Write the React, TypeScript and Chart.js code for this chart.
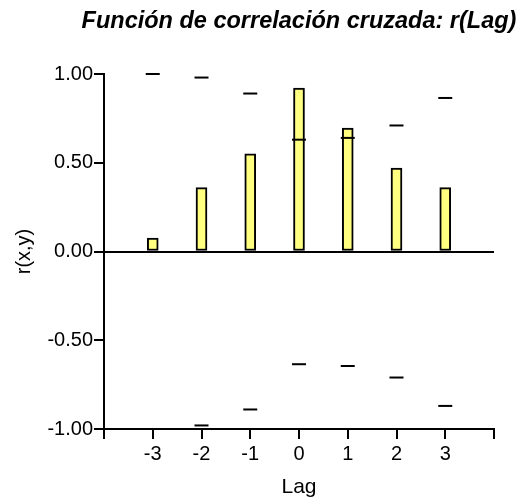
import React, { useEffect, useRef } from "react";
import { Chart, registerables } from "chart.js";

Chart.register(...registerables);

const lags = [-3, -2, -1, 0, 1, 2, 3];
const correlation = [0.075, 0.36, 0.55, 0.92, 0.695, 0.47, 0.36];
const upperLimit = [1.0, 0.98, 0.89, 0.63, 0.64, 0.71, 0.865];
const lowerLimit = [-1.0, -0.98, -0.89, -0.635, -0.645, -0.71, -0.87];
const yTicks = [-1, -0.5, 0, 0.5, 1];
const titleText = "Función de correlación cruzada: r(Lag)";
const xTitle = "Lag";
const yTitle = "r(x,y)";

const FONT = "'Liberation Sans', Arial, sans-serif";

export default function App() {
  const ref = useRef<HTMLCanvasElement | null>(null);

  useEffect(() => {
    if (!ref.current) return;
    const titlePlugin = {
      id: "customTitle",
      afterDraw(chart: any) {
        const ctx = chart.ctx;
        ctx.save();
        ctx.font = `italic bold 23.5px ${FONT}`;
        ctx.fillStyle = "#000";
        ctx.textAlign = "center";
        ctx.textBaseline = "alphabetic";
        ctx.fillText(titleText, 299, 28);
        ctx.restore();
      },
    };
    const chart = new Chart(ref.current, {
      type: "bar",
      data: {
        datasets: [
          {
            type: "bar",
            data: lags.map((x, i) => ({ x, y: correlation[i] })),
            backgroundColor: "#ffff80",
            borderColor: "#000",
            borderWidth: 2,
            borderSkipped: false,
            barThickness: 11,
            order: 2,
          } as any,
          {
            type: "line",
            data: lags.map((x, i) => ({ x, y: upperLimit[i] })),
            showLine: false,
            pointStyle: "line",
            pointRadius: 7,
            pointBorderWidth: 2,
            pointBorderColor: "#000",
            borderColor: "#000",
            clip: false,
            order: 0,
          } as any,
          {
            type: "line",
            data: lags.map((x, i) => ({ x, y: lowerLimit[i] })),
            showLine: false,
            pointStyle: "line",
            pointRadius: 7,
            pointBorderWidth: 2,
            pointBorderColor: "#000",
            borderColor: "#000",
            clip: false,
            order: 0,
          } as any,
        ],
      },
      options: {
        responsive: false,
        animation: false,
        events: [],
        layout: { padding: { left: 0, right: 26, top: 74, bottom: 0 } },
        plugins: { legend: { display: false }, tooltip: { enabled: false }, title: { display: false } },
        scales: {
          x: {
            type: "linear",
            min: -4,
            max: 4,
            offset: false,
            afterFit(scale: any) {
              scale.height = 74;
            },
            afterBuildTicks(scale: any) {
              scale.ticks = [-4, -3, -2, -1, 0, 1, 2, 3, 4].map((v) => ({ value: v }));
            },
            ticks: {
              color: "#000",
              font: { family: FONT, size: 20 },
              padding: 3,
              maxRotation: 0,
              autoSkip: false,
              callback: (v: any) => (lags.includes(Number(v)) ? String(v) : ""),
            },
            grid: {
              offset: false,
              drawOnChartArea: false,
              drawTicks: true,
              tickLength: 10,
              tickColor: "#000",
              tickWidth: 2,
              color: "#000",
              lineWidth: 2,
            },
            border: { display: true, color: "#000", width: 2 },
            title: {
              display: true,
              text: xTitle,
              color: "#000",
              font: { family: FONT, size: 21 },
              padding: { top: 0, bottom: 3 },
            },
          },
          y: {
            type: "linear",
            min: -1,
            max: 1,
            afterFit(scale: any) {
              scale.width = 104;
            },
            afterBuildTicks(scale: any) {
              scale.ticks = yTicks.map((v) => ({ value: v }));
            },
            ticks: {
              color: "#000",
              font: { family: FONT, size: 20 },
              padding: 1,
              callback: (v: any) => Number(v).toFixed(2),
            },
            grid: {
              drawOnChartArea: true,
              drawTicks: true,
              tickLength: 10,
              tickColor: "#000",
              tickWidth: 2,
              color: (c: any) => (c.tick && c.tick.value === 0 ? "#000" : "rgba(0,0,0,0)"),
              lineWidth: 2,
            },
            border: { display: true, color: "#000", width: 2 },
            title: {
              display: true,
              text: yTitle,
              color: "#000",
              font: { family: FONT, size: 20 },
              padding: { top: 12, bottom: 0 },
            },
          },
        },
      } as any,
      plugins: [titlePlugin],
    });
    return () => chart.destroy();
  }, []);

  return (
    <div style={{ position: "fixed", left: 0, top: 0, width: 520, height: 503, background: "#fff" }}>
      <canvas ref={ref} width={520} height={503} />
    </div>
  );
}
